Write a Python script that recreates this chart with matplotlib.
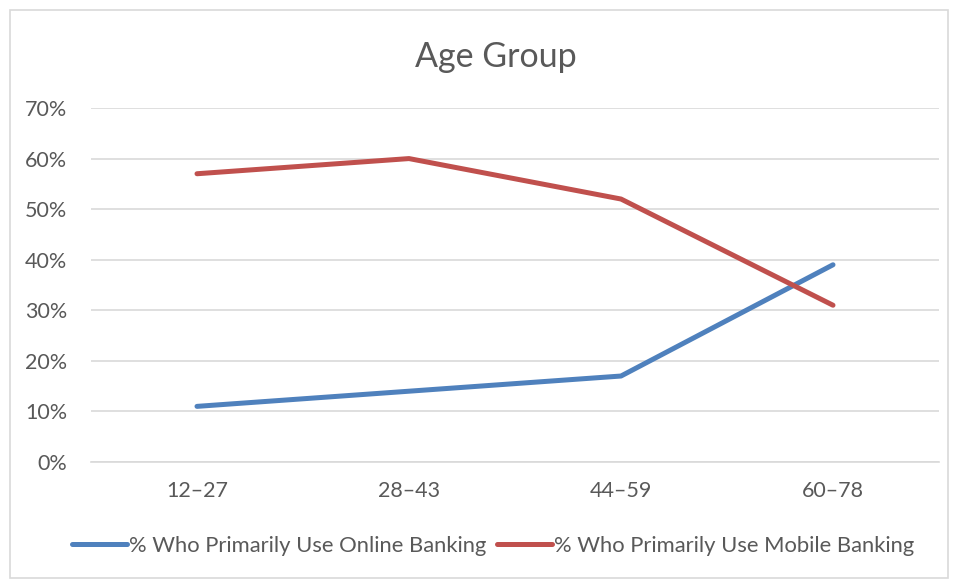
import matplotlib
matplotlib.use("Agg")
import matplotlib.pyplot as plt
from matplotlib.ticker import PercentFormatter
from matplotlib.patches import Rectangle

categories = ["12–27", "28–43", "44–59", "60–78"]
online = [11, 14, 17, 39]
mobile = [57, 60, 52, 31]
yticks = [0, 10, 20, 30, 40, 50, 60, 70]

plt.rcParams['font.family'] = ['Lato', 'DejaVu Sans']
text_color = '#595959'
grid_color = '#d9d9d9'

fig = plt.figure(figsize=(9.57, 5.82), dpi=100)
ax = fig.add_axes([91/957, 120/582, (939-91)/957, (462-108)/582])

x = list(range(len(categories)))
ax.plot(x, online, color='#4F81BD', lw=3.6, solid_capstyle='round',
        label='% Who Primarily Use Online Banking')
ax.plot(x, mobile, color='#C0504D', lw=3.6, solid_capstyle='round',
        label='% Who Primarily Use Mobile Banking')

ax.set_xlim(-0.5, len(categories) - 0.5)
ax.set_ylim(0, 70)
ax.set_yticks(yticks)
ax.yaxis.set_major_formatter(PercentFormatter(decimals=0))
ax.set_xticks(x)
ax.set_xticklabels(categories)
ax.tick_params(axis='both', length=0, labelsize=15.5, colors=text_color)
ax.tick_params(axis='y', pad=17)
ax.tick_params(axis='x', pad=14)
ax.grid(axis='y', color=grid_color, lw=1.2)
ax.set_axisbelow(True)
for s in ['top', 'right', 'left']:
    ax.spines[s].set_visible(False)
ax.spines['bottom'].set_color(grid_color)
ax.spines['bottom'].set_linewidth(1.2)

fig.text(496/957, 1 - 57/582, 'Age Group', ha='center', va='center',
         fontsize=24.5, color=text_color)

leg = fig.legend(loc='center', bbox_to_anchor=(493/957, 1 - 546/582), ncol=2,
                 frameon=False, fontsize=15.8, handlelength=2.5, handletextpad=0.1,
                 columnspacing=0.5)
for t in leg.get_texts():
    t.set_color(text_color)

fig.patches.append(Rectangle((10/957, 1 - 578/582), 938/957, 568/582,
                             transform=fig.transFigure, fill=False,
                             edgecolor=grid_color, lw=1.2))

fig.savefig('out.png', dpi=100)
